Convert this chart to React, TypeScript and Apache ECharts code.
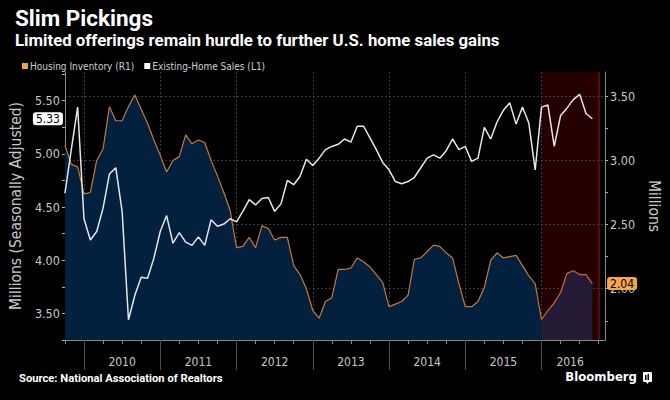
import React, { useEffect, useRef } from "react";
import * as echarts from "echarts";

// month index 0 = January 2010; first observation is October 2009
const startMonth = -3;

// Existing-Home Sales, millions (left axis, L1)
const salesValues = [
  4.63, 5.04, 5.44,
  4.39, 4.19, 4.27, 4.49, 4.81, 4.87, 4.46, 3.44, 3.67, 3.84, 3.83, 4.02,
  4.27, 4.42, 4.16, 4.26, 4.17, 4.14, 4.22, 4.14, 4.38, 4.32, 4.34, 4.39,
  4.36, 4.46, 4.57, 4.52, 4.58, 4.59, 4.46, 4.53, 4.75, 4.71, 4.79, 4.95,
  4.89, 4.96, 5.04, 5.07, 5.09, 5.14, 5.11, 5.26, 5.26, 5.15, 5.04, 4.92,
  4.85, 4.74, 4.72, 4.74, 4.78, 4.87, 4.96, 4.99, 4.96, 5.03, 5.14, 5.04,
  5.07, 4.93, 4.96, 5.25, 5.14, 5.30, 5.41, 5.48, 5.28, 5.44, 5.29, 4.85,
  5.44, 5.46, 5.07, 5.36, 5.43, 5.51, 5.56, 5.38, 5.33,
];

// Housing Inventory, millions (right axis, R1)
const inventoryValues = [
  3.12, 2.97, 2.95,
  2.74, 2.75, 3.00, 3.09, 3.42, 3.31, 3.31, 3.42, 3.51, 3.40, 3.29, 3.16,
  3.04, 2.91, 3.00, 3.03, 3.20, 3.13, 3.16, 3.14, 3.00, 2.88, 2.75, 2.61,
  2.32, 2.33, 2.40, 2.32, 2.49, 2.47, 2.38, 2.40, 2.40, 2.18, 2.11, 2.00,
  1.83, 1.77, 1.90, 1.93, 2.15, 2.15, 2.16, 2.24, 2.21, 2.17, 2.11, 2.05,
  1.86, 1.88, 1.90, 1.95, 2.23, 2.24, 2.29, 2.34, 2.33, 2.28, 2.24, 2.04,
  1.86, 1.86, 1.90, 2.01, 2.22, 2.28, 2.24, 2.25, 2.26, 2.18, 2.10, 2.04,
  1.76, 1.83, 1.89, 1.97, 2.12, 2.14, 2.11, 2.11, 2.04,
];

const yearLabels = ["2010", "2011", "2012", "2013", "2014", "2015", "2016"];
const yearLabelPositions = [6, 18, 30, 42, 54, 66, 76.5];
const yearBoundaries = [0, 12, 24, 36, 48, 60, 72];
const quarterTicks = [-3, 0, 3, 6, 9, 12, 15, 18, 21, 24, 27, 30, 33, 36, 39, 42, 45, 48, 51, 54, 57, 60, 63, 66, 69, 72, 75, 78, 81];
const xRange = [-3, 82];
const shadedRange = [72, 81];

const leftRange = [3.25, 5.77];
const leftTicks = [3.25, 3.5, 3.75, 4, 4.25, 4.5, 4.75, 5, 5.25, 5.5, 5.75];
const leftLabels = [3.5, 4, 4.5, 5, 5.5];
const rightRange = [1.6, 3.69];
const rightTicks = [1.75, 2, 2.25, 2.5, 2.75, 3, 3.25, 3.5];
const rightLabels = [2, 2.5, 3, 3.5];

const NARROW = "'Liberation Sans Narrow', 'DejaVu Sans Condensed', 'Roboto Condensed', Roboto, sans-serif";
const BOLD = "Roboto, 'Noto Sans', sans-serif";

export default function App() {
  const ref = useRef<HTMLDivElement>(null);

  useEffect(() => {
    if (!ref.current) return;
    const chart = echarts.init(ref.current, null, { renderer: "svg" });
    const months = salesValues.map((_, i) => startMonth + i);
    const salesData = months.map((m, i) => [m, salesValues[i]]);
    const invData = months.map((m, i) => [m, inventoryValues[i]]);
    const lastSales = salesValues[salesValues.length - 1];
    const lastInv = inventoryValues[inventoryValues.length - 1];

    const axisLabelColor = "#c8c8c8";

    chart.setOption({
      animation: false,
      backgroundColor: "#000",
      textStyle: { fontFamily: NARROW },
      grid: { left: 63, right: 63, top: 72, bottom: 60, containLabel: false },
      legend: {
        left: 17,
        top: 56,
        itemWidth: 6,
        itemHeight: 6,
        itemGap: 10,
        icon: "rect",
        textStyle: { color: "#cfcfcf", fontSize: 10, fontFamily: NARROW, padding: [0, 0, 0, -3] },
        data: [
          { name: "Housing Inventory (R1)", itemStyle: { color: "#f5a04a" } },
          { name: "Existing-Home Sales (L1)", itemStyle: { color: "#ffffff" } },
        ],
      },
      graphic: [
        {
          type: "text",
          left: 15,
          top: 6,
          style: { text: "Slim Pickings", fill: "#fff", fontSize: 22.5, fontWeight: "bold", fontFamily: BOLD },
        },
        {
          type: "text",
          left: 15,
          top: 31,
          style: {
            text: "Limited offerings remain hurdle to further U.S. home sales gains",
            fill: "#fff",
            fontSize: 16.8,
            fontWeight: "bold",
            fontFamily: BOLD,
          },
        },
        {
          type: "text",
          left: 19,
          top: 373,
          style: { text: "Source: National Association of Realtors", fill: "#fff", fontSize: 11.2, fontWeight: "bold", fontFamily: BOLD },
        },
        {
          type: "text",
          x: 637,
          y: 370,
          style: { text: "Bloomberg", fill: "#fff", fontSize: 13, fontFamily: NARROW, fontWeight: "bold", textAlign: "right" },
        },
        {
          type: "group",
          left: 643,
          top: 372,
          children: [
            { type: "rect", shape: { x: 0, y: 0, width: 9, height: 10, r: 1 }, style: { fill: "#fff" } },
            { type: "rect", shape: { x: 2, y: 3, width: 1.5, height: 5 }, style: { fill: "#000" } },
            { type: "rect", shape: { x: 4.5, y: 2, width: 1.5, height: 6 }, style: { fill: "#000" } },
            { type: "polygon", shape: { points: [[3, 10], [6, 10], [4.5, 12]] }, style: { fill: "#fff" } },
          ],
        },
      ],
      xAxis: [
        {
          type: "value",
          min: xRange[0],
          max: xRange[1],
          position: "bottom",
          axisPointer: { show: false },
          axisLine: { show: true, onZero: false, lineStyle: { color: "#8a8a8a", width: 1 } },
          axisTick: { show: true, customValues: quarterTicks, length: 4, lineStyle: { color: "#8a8a8a" } },
          axisLabel: { show: false },
          splitLine: { show: false },
        },
        {
          type: "value",
          min: xRange[0],
          max: xRange[1],
          position: "bottom",
          axisPointer: { show: false },
          axisLine: { show: false, onZero: false },
          axisTick: { show: true, customValues: yearBoundaries, length: 30, lineStyle: { color: "#505050", width: 1 } },
          axisLabel: {
            show: true,
            customValues: yearLabelPositions,
            margin: 16,
            color: axisLabelColor,
            fontSize: 12,
            fontFamily: NARROW,
            formatter: (v: number) => yearLabels[yearLabelPositions.indexOf(v)] ?? "",
          },
          splitLine: { show: true, lineStyle: { color: "#3c3c3c", type: [2, 2], width: 1 } },
        },
      ],
      yAxis: [
        {
          type: "value",
          position: "left",
          min: leftRange[0],
          max: leftRange[1],
          name: "Millions (Seasonally Adjusted)",
          nameLocation: "middle",
          nameRotate: 90,
          nameGap: 31,
          nameTextStyle: { color: axisLabelColor, fontSize: 15.5, fontFamily: NARROW },
          axisLine: { show: true, onZero: false, lineStyle: { color: "#8a8a8a" } },
          axisTick: { show: true, customValues: leftTicks, length: 3, lineStyle: { color: "#b0b0b0" } },
          axisLabel: {
            customValues: leftLabels,
            margin: 5,
            color: axisLabelColor,
            fontSize: 12.5,
            fontFamily: NARROW,
            formatter: (v: number) => v.toFixed(2),
          },
          splitLine: { show: false },
          axisPointer: {
            show: true,
            type: "none",
            status: "show",
            value: lastSales,
            triggerTooltip: false,
            label: {
              show: true,
              margin: 2,
              backgroundColor: "#ffffff",
              color: "#000",
              fontSize: 12,
              fontFamily: NARROW,
              padding: [1, 3, 0, 3],
              formatter: (p: any) => Number(p.value).toFixed(2),
            },
          },
        },
        {
          type: "value",
          position: "right",
          min: rightRange[0],
          max: rightRange[1],
          name: "Millions",
          nameLocation: "middle",
          nameRotate: -90,
          nameGap: 27,
          nameTextStyle: { color: axisLabelColor, fontSize: 15.5, fontFamily: NARROW },
          axisLine: { show: true, onZero: false, lineStyle: { color: "#8a8a8a" } },
          axisTick: { show: true, customValues: rightTicks, length: 3, lineStyle: { color: "#b0b0b0" } },
          axisLabel: {
            customValues: rightLabels,
            margin: 5,
            color: axisLabelColor,
            fontSize: 12.5,
            fontFamily: NARROW,
            formatter: (v: number) => v.toFixed(2),
          },
          splitLine: { show: false },
          axisPointer: {
            show: true,
            type: "none",
            status: "show",
            value: lastInv,
            triggerTooltip: false,
            label: {
              show: true,
              margin: 2,
              backgroundColor: "#f5a54a",
              color: "#000",
              fontSize: 12,
              fontFamily: NARROW,
              padding: [1, 3, 0, 3],
              formatter: (p: any) => Number(p.value).toFixed(2),
            },
          },
        },
        {
          type: "value",
          position: "right",
          min: rightRange[0],
          max: rightRange[1],
          axisPointer: { show: false },
          axisLine: { show: false, onZero: false },
          axisTick: { show: false, customValues: rightLabels },
          axisLabel: { show: false },
          splitLine: { show: true, lineStyle: { color: "#3c3c3c", type: [2, 2], width: 1 } },
        },
      ],
      series: [
        {
          name: "Housing Inventory (R1)",
          type: "line",
          xAxisIndex: 0,
          yAxisIndex: 1,
          data: invData,
          showSymbol: false,
          z: 1,
          itemStyle: { color: "#f5a04a" },
          lineStyle: { color: "#c47a36", width: 1.2 },
          areaStyle: { color: "#03203f", opacity: 1, origin: "start" },
          markArea: {
            silent: true,
            z: 2,
            itemStyle: { color: "rgba(255,0,0,0.14)" },
            data: [[{ xAxis: shadedRange[0] }, { xAxis: shadedRange[1] }]],
          },
          markLine: {
            silent: true,
            symbol: "none",
            label: { show: false },
            lineStyle: { color: "#7a0c0c", width: 1.5, type: "solid" },
            data: [{ xAxis: shadedRange[1] }],
          },
        },
        {
          name: "Existing-Home Sales (L1)",
          type: "line",
          xAxisIndex: 0,
          yAxisIndex: 0,
          data: salesData,
          showSymbol: false,
          z: 5,
          itemStyle: { color: "#ffffff" },
          lineStyle: { color: "#e6e6e6", width: 1.5 },
        },
      ],
    });
    return () => chart.dispose();
  }, []);

  return <div ref={ref} style={{ position: "fixed", left: 0, top: 0, width: 670, height: 400 }} />;
}
